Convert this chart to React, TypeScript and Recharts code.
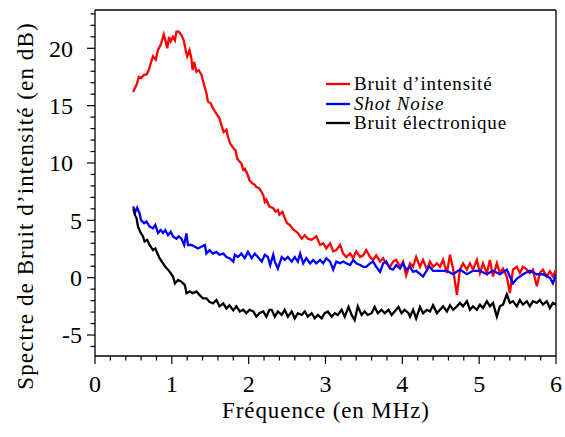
import React from 'react';
import { LineChart, Line, XAxis, YAxis, ReferenceLine, Label } from 'recharts';

const redPts: [number, number][] = [
  [0.495,16.2],[0.54,16.8],[0.57,17.5],[0.6,17.4],[0.64,17.7],[0.67,17.7],[0.7,18.1],[0.73,18.8],[0.755,19.3],[0.79,19.0],
  [0.82,19.85],[0.84,20.1],[0.86,20.4],[0.895,21.2],[0.92,20.6],[0.94,20.0],[0.965,21.0],[0.985,20.6],[1.015,21.0],[1.04,20.7],
  [1.06,21.45],[1.09,21.45],[1.125,21.15],[1.155,20.7],[1.18,19.85],[1.2,19.3],[1.23,19.85],[1.255,19.1],[1.27,18.1],[1.29,18.8],
  [1.32,17.95],[1.35,18.1],[1.385,17.7],[1.42,16.8],[1.45,16.1],[1.47,15.35],[1.505,15.2],[1.535,14.8],[1.56,14.5],[1.59,14.2],
  [1.62,13.9],[1.645,13.3],[1.675,12.7],[1.71,12.9],[1.73,12.3],[1.76,11.7],[1.8,11.3],[1.83,11.1],[1.85,10.4],[1.885,10.1],
  [1.905,9.97],[1.93,9.4],[1.95,9.5],[1.98,9.1],[2.01,8.5],[2.05,8.2],[2.08,8.1],[2.1,7.9],[2.135,7.8],[2.165,7.5],
  [2.19,7.2],[2.21,6.6],[2.23,6.8],[2.27,6.2],[2.32,6.05],[2.35,5.75],[2.38,5.9],[2.4,5.5],[2.44,5.75],[2.47,5.2],
  [2.5,4.75],[2.535,4.6],[2.58,4.2],[2.64,3.9],[2.69,3.4],[2.73,3.7],[2.77,3.4],[2.82,3.3],[2.88,3.6],[2.93,2.85],
  [2.97,3.0],[3.01,2.55],[3.06,3.0],[3.1,2.3],[3.14,2.4],[3.19,2.85],[3.23,2.1],[3.27,1.8],[3.32,2.1],[3.36,1.7],
  [3.4,2.3],[3.45,1.8],[3.49,1.95],[3.53,2.4],[3.58,1.8],[3.62,1.55],[3.66,1.95],[3.71,1.4],[3.75,1.7],[3.79,1.25],
  [3.84,0.95],[3.88,1.4],[3.92,1.55],[3.97,0.95],[4.01,1.4],[4.05,0.2],[4.1,1.25],[4.14,0.95],[4.18,1.8],[4.23,0.95],
  [4.27,1.55],[4.32,0.7],[4.36,1.4],[4.4,0.95],[4.45,1.25],[4.49,0.95],[4.53,1.55],[4.58,0.4],[4.62,2.0],[4.66,0.8],
  [4.71,-1.5],[4.75,0.7],[4.79,1.25],[4.84,0.7],[4.88,1.25],[4.92,0.7],[4.97,1.55],[5.01,0.4],[5.05,1.25],[5.1,0.4],
  [5.14,1.55],[5.18,0.1],[5.23,1.25],[5.27,0.4],[5.31,0.8],[5.36,0.1],[5.4,-1.35],[5.44,0.7],[5.49,0.95],[5.53,0.4],
  [5.57,0.95],[5.62,0.7],[5.66,0.4],[5.7,0.7],[5.75,-0.75],[5.79,0.4],[5.83,0.7],[5.88,0.1],[5.92,0.55],[5.96,0.1],[6.0,0.7],
];

const bluePts: [number, number][] = [
  [0.495,6.2],[0.525,5.75],[0.55,6.1],[0.58,5.6],[0.6,5.0],[0.64,4.75],[0.67,4.9],[0.71,4.45],[0.755,4.3],[0.785,4.6],
  [0.82,3.9],[0.855,4.15],[0.885,3.9],[0.915,4.15],[0.95,3.7],[0.985,4.0],[1.015,3.6],[1.06,3.4],[1.09,3.6],[1.125,3.4],
  [1.16,2.85],[1.19,3.85],[1.21,2.85],[1.255,2.85],[1.3,2.7],[1.34,2.55],[1.385,2.7],[1.43,2.85],[1.45,2.1],[1.49,2.4],
  [1.535,2.1],[1.58,2.25],[1.62,2.0],[1.67,2.1],[1.71,1.8],[1.75,1.7],[1.8,1.4],[1.82,2.0],[1.86,1.8],[1.905,2.1],
  [1.95,1.7],[1.99,2.25],[2.04,1.7],[2.08,2.1],[2.12,1.8],[2.17,1.4],[2.21,2.0],[2.25,1.8],[2.28,1.1],[2.32,2.0],
  [2.34,1.4],[2.38,0.8],[2.43,1.8],[2.47,1.55],[2.51,1.8],[2.56,1.4],[2.6,1.8],[2.64,1.4],[2.67,2.1],[2.71,1.25],
  [2.75,1.7],[2.8,1.25],[2.84,1.55],[2.88,1.25],[2.93,1.55],[2.97,1.25],[3.01,1.7],[3.06,1.4],[3.1,0.7],[3.14,1.4],
  [3.19,1.25],[3.23,1.4],[3.27,1.25],[3.32,1.1],[3.36,1.55],[3.4,1.25],[3.45,1.1],[3.49,0.95],[3.53,0.95],[3.58,1.25],
  [3.62,1.4],[3.66,0.95],[3.71,0.5],[3.75,1.25],[3.79,1.4],[3.84,0.8],[3.88,0.7],[3.92,1.1],[3.97,0.8],[4.01,1.25],
  [4.05,0.7],[4.1,0.95],[4.14,0.5],[4.18,0.6],[4.27,0.1],[4.35,1.0],[4.4,0.6],[4.49,0.6],[4.58,0.6],[4.66,0.3],
  [4.75,0.7],[4.84,0.3],[4.92,0.6],[5.01,0.6],[5.1,0.3],[5.18,0.6],[5.27,0.3],[5.36,0.7],[5.44,-0.5],[5.49,-0.1],
  [5.57,0.3],[5.66,0.6],[5.75,0.3],[5.83,0.3],[5.92,0.0],[5.96,-0.5],[6.0,0.3],
];

const blackPts: [number, number][] = [
  [0.5,6.0],[0.52,5.45],[0.54,5.2],[0.56,4.45],[0.595,3.9],[0.625,3.6],[0.645,3.15],[0.68,3.3],[0.71,2.85],[0.755,2.4],
  [0.785,2.55],[0.82,2.0],[0.84,1.7],[0.885,1.25],[0.915,0.95],[0.95,0.7],[0.985,0.4],[1.015,0.1],[1.04,-0.5],[1.08,-0.2],
  [1.125,-0.35],[1.17,-0.65],[1.19,-1.35],[1.23,-1.2],[1.275,-1.35],[1.32,-1.2],[1.36,-1.5],[1.405,-1.8],[1.45,-1.8],[1.49,-2.1],
  [1.535,-2.25],[1.58,-1.95],[1.62,-2.5],[1.67,-2.25],[1.71,-2.7],[1.75,-2.4],[1.8,-2.85],[1.84,-2.5],[1.885,-2.95],[1.93,-2.8],
  [1.97,-3.1],[2.01,-2.8],[2.06,-2.95],[2.1,-3.4],[2.14,-3.1],[2.19,-2.95],[2.23,-3.4],[2.27,-2.8],[2.3,-2.8],[2.34,-3.4],
  [2.38,-2.95],[2.43,-3.25],[2.47,-2.8],[2.51,-3.4],[2.56,-2.95],[2.6,-3.55],[2.64,-3.1],[2.69,-3.25],[2.73,-2.95],[2.77,-3.4],
  [2.82,-3.1],[2.86,-3.55],[2.9,-3.25],[2.95,-3.55],[2.99,-3.1],[3.03,-2.95],[3.08,-3.4],[3.12,-3.1],[3.16,-3.25],[3.21,-2.8],
  [3.25,-3.4],[3.3,-2.55],[3.34,-3.25],[3.38,-3.7],[3.42,-2.5],[3.47,-3.25],[3.51,-2.95],[3.55,-3.25],[3.6,-3.1],[3.64,-2.55],
  [3.68,-3.1],[3.73,-2.8],[3.77,-3.1],[3.82,-2.8],[3.86,-3.25],[3.9,-2.95],[3.95,-2.55],[3.99,-3.1],[4.03,-2.8],[4.08,-3.1],
  [4.1,-3.4],[4.14,-2.8],[4.18,-3.55],[4.23,-2.55],[4.27,-3.1],[4.32,-2.8],[4.36,-2.95],[4.4,-2.4],[4.45,-3.1],[4.49,-2.8],
  [4.53,-2.5],[4.58,-2.95],[4.62,-2.4],[4.66,-2.8],[4.71,-2.5],[4.75,-2.2],[4.79,-2.5],[4.84,-2.05],[4.88,-2.8],[4.92,-2.5],
  [4.97,-2.8],[5.01,-2.35],[5.05,-2.65],[5.1,-2.05],[5.14,-2.5],[5.18,-2.2],[5.23,-3.4],[5.27,-2.5],[5.31,-2.35],[5.36,-1.45],
  [5.4,-2.2],[5.44,-2.05],[5.49,-2.5],[5.53,-1.95],[5.57,-2.35],[5.62,-2.05],[5.66,-2.5],[5.7,-2.05],[5.75,-2.2],[5.79,-1.95],
  [5.83,-2.35],[5.88,-2.05],[5.92,-2.65],[5.96,-2.2],[6.0,-2.35],
];

const seriesNames = ['Bruit d\u2019intensit\u00e9', 'Shot Noise', 'Bruit \u00e9lectronique'];
const seriesColors = ['#ff0000', '#0000ff', '#000000'];
const xTicks = Array.from({ length: 31 }, (_, i) => Math.round(i * 2) / 10);
const yTicks = Array.from({ length: 30 }, (_, i) => i - 6);
const xDomain: [number, number] = [0, 6];
const yDomain: [number, number] = [-6.83, 23.34];
const xLabel = 'Fr\u00e9quence (en MHz)';
const yLabel = 'Spectre de Bruit d\u2019intensit\u00e9 (en dB)';

const toData = (pts: [number, number][]) => pts.map(([f, v]) => ({ f, v }));
const redData = toData(redPts);
const blueData = toData(bluePts);
const blackData = toData(blackPts);

const FONT = "'Liberation Serif', serif";

const YTick = (props: any) => {
  const { x, y, payload } = props;
  const v = payload.value;
  const major = v % 5 === 0;
  const len = major ? 8 : 4.5;
  const right = Math.abs(v) >= 10 ? x - 22 : x - 13;
  return (
    <g>
      <line x1={x - len} x2={x} y1={y} y2={y} stroke="#000" strokeWidth={1.2} />
      {major && (
        <text x={right} y={y + 8.4} textAnchor="end" fill="#000" style={{ fontFamily: FONT, fontSize: 24 }}>
          {v}
        </text>
      )}
    </g>
  );
};

const XTick = (props: any) => {
  const { x, y, payload } = props;
  const v = payload.value;
  const major = Math.abs(v - Math.round(v)) < 1e-6;
  const len = major ? 8 : 4.5;
  return (
    <g>
      <line x1={x} x2={x} y1={y} y2={y + len} stroke="#000" strokeWidth={1.2} />
      {major && (
        <text x={x} y={y + 36} textAnchor="middle" fill="#000" style={{ fontFamily: FONT, fontSize: 24 }}>
          {Math.round(v)}
        </text>
      )}
    </g>
  );
};

const LegendBox = () => (
  <div
    style={{
      position: 'absolute',
      left: 325,
      top: 74,
      fontFamily: FONT,
      fontSize: 19,
      letterSpacing: 0.85,
      lineHeight: '19.7px',
      color: '#000',
    }}
  >
    {seriesNames.map((n, i) => (
      <div key={n} style={{ display: 'flex', alignItems: 'center', height: 19.7, whiteSpace: 'nowrap' }}>
        <svg width={29} height={4}>
          <line x1={1} x2={25} y1={2} y2={2} stroke={seriesColors[i]} strokeWidth={2.3} />
        </svg>
        <span style={{ fontStyle: i === 1 ? 'italic' : 'normal' }}>{n}</span>
      </div>
    ))}
  </div>
);

export default function App() {
  return (
    <div style={{ position: 'absolute', left: 0, top: 0, width: 565, height: 437, background: '#fff' }}>
      <LineChart width={565} height={437} margin={{ top: 10, right: 9, bottom: 51, left: 15 }}>
        <XAxis
          dataKey="f"
          type="number"
          domain={xDomain}
          ticks={xTicks}
          interval={0}
          allowDataOverflow
          tickSize={0}
          tickMargin={0}
          tickLine={false}
          tick={<XTick />}
          height={30}
          axisLine={{ stroke: '#000', strokeWidth: 1.3 }}
        >
          <Label
            content={() => (
              <text
                x={326}
                y={418}
                textAnchor="middle"
                fill="#000"
                style={{ fontFamily: FONT, fontSize: 23, letterSpacing: 0.9 }}
              >
                {xLabel}
              </text>
            )}
          />
        </XAxis>
        <YAxis
          type="number"
          domain={yDomain}
          ticks={yTicks}
          interval={0}
          allowDataOverflow
          tickSize={0}
          tickMargin={0}
          tickLine={false}
          tick={<YTick />}
          width={80}
          axisLine={{ stroke: '#000', strokeWidth: 1.3 }}
        >
          <Label
            content={() => (
              <text
                x={33}
                y={206}
                transform="rotate(-90 33 206)"
                textAnchor="middle"
                fill="#000"
                style={{ fontFamily: FONT, fontSize: 23, letterSpacing: 1.1 }}
              >
                {yLabel}
              </text>
            )}
          />
        </YAxis>
        <ReferenceLine y={yDomain[1]} stroke="#000" strokeWidth={1.3} />
        <ReferenceLine x={xDomain[1]} stroke="#000" strokeWidth={1.3} />
        <Line data={redData} dataKey="v" stroke={seriesColors[0]} strokeWidth={2.3} dot={false} isAnimationActive={false} name={seriesNames[0]} />
        <Line data={blueData} dataKey="v" stroke={seriesColors[1]} strokeWidth={2.3} dot={false} isAnimationActive={false} name={seriesNames[1]} />
        <Line data={blackData} dataKey="v" stroke={seriesColors[2]} strokeWidth={2.3} dot={false} isAnimationActive={false} name={seriesNames[2]} />
      </LineChart>
      <LegendBox />
    </div>
  );
}
